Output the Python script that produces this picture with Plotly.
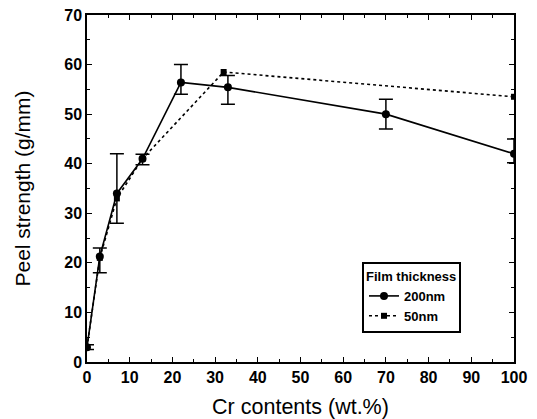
import plotly.graph_objects as go

cr_200 = [0, 3, 7, 13, 22, 33, 70, 100]
peel_200 = [3, 21.3, 34, 41, 56.4, 55.4, 50, 42]
err_plus_200 = [0.5, 1.7, 8, 0.9, 3.6, 2.4, 3, 3]
err_minus_200 = [0.5, 3.3, 6, 1.2, 2.4, 3.4, 3, 1.8]

cr_50 = [0, 3, 7, 13, 32, 100]
peel_50 = [3, 21, 33, 41, 58.5, 53.5]

x_ticks = [0, 10, 20, 30, 40, 50, 60, 70, 80, 90, 100]
y_ticks = [0, 10, 20, 30, 40, 50, 60, 70]

fig = go.Figure()
fig.add_trace(go.Scatter(
    x=cr_200, y=peel_200, mode="lines+markers", name="200nm",
    line=dict(color="black", width=1.6),
    marker=dict(symbol="circle", size=8, color="black"),
    error_y=dict(type="data", symmetric=False, array=err_plus_200,
                 arrayminus=err_minus_200, color="black", thickness=1.5, width=7),
))
fig.add_trace(go.Scatter(
    x=cr_50, y=peel_50, mode="lines+markers", name="50nm",
    line=dict(color="black", width=1.6, dash="dot"),
    marker=dict(symbol="square", size=6, color="black"),
))

axis_common = dict(
    showline=True, linecolor="black", linewidth=1.5, mirror="ticks",
    ticks="inside", ticklen=5, tickwidth=1.2, tickcolor="black",
    showgrid=False, zeroline=False, automargin=False, ticklabeloverflow="allow",
    tickfont=dict(family="Liberation Sans", size=16, color="black", weight="bold"),
    minor=dict(ticks="inside", ticklen=3, tickwidth=1, tickcolor="black"),
)

fig.update_xaxes(range=[0, 100], tickvals=x_ticks, minor_dtick=5,
                 title=dict(text="Cr contents (wt.%)", standoff=16,
                            font=dict(family="Liberation Sans", size=21.5, color="black")),
                 **axis_common)
fig.update_yaxes(range=[0, 70], tickvals=y_ticks, minor_dtick=5,
                 title=dict(text="Peel strength (g/mm)", standoff=28,
                            font=dict(family="Liberation Sans", size=21, color="black")),
                 **axis_common)

fig.update_layout(
    width=529, height=411,
    margin=dict(l=79, r=23, t=7, b=57),
    plot_bgcolor="white", paper_bgcolor="white",
    legend=dict(
        title=dict(text="Film thickness", font=dict(family="Liberation Sans", size=13, color="black", weight="bold")),
        x=0.644, y=0.288, xanchor="left", yanchor="top",
        bordercolor="black", borderwidth=2, bgcolor="white",
        font=dict(family="Liberation Sans", size=13, color="black", weight="bold"),
        tracegroupgap=0, itemwidth=30,
    ),
)

fig.write_html("out.html")
